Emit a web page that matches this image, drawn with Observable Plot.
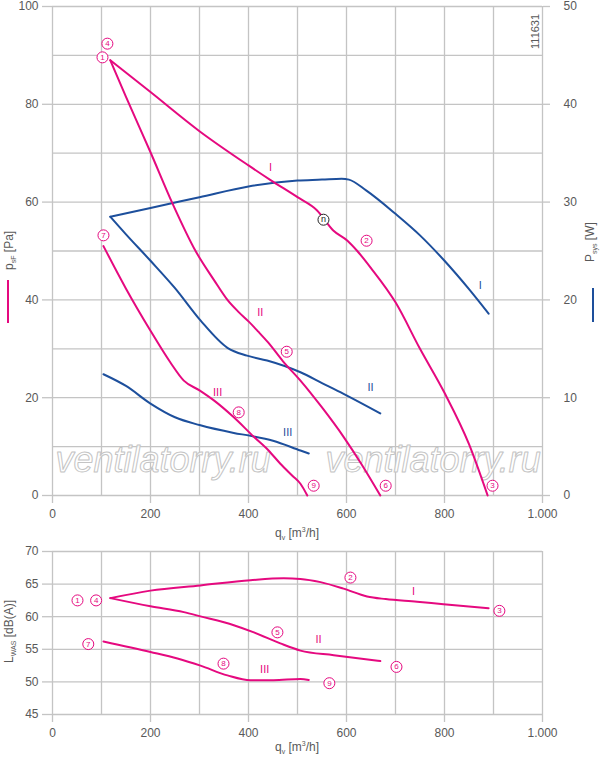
<!DOCTYPE html>
<html><head><meta charset="utf-8">
<script src="https://cdn.jsdelivr.net/npm/d3@7"></script>
<script src="https://cdn.jsdelivr.net/npm/@observablehq/plot@0.6"></script>
<style>
body{margin:0;background:#fff;font-family:"Liberation Sans",Arial,sans-serif;}
#chart{width:600px;height:760px;}
#chart svg{display:block}
</style></head><body><div id="chart"></div>
<script>
// ---------- data ----------
const qTicks = [0,100,200,300,400,500,600,700,800,900,1000];
const qLabelTicks = [0,200,400,600,800,1000];
const pGrid = [0,10,20,30,40,50,60,70,80,90,100];
const pTicks = [0,20,40,60,80,100];
const lGrid = [45,50,55,60,65,70];

// static pressure p_sF [Pa] vs q_v [m3/h]
const pressI = [[118,89],[200,82.5],[300,74.5],[400,67.5],[445,64.5],[500,61],[540,58.3],[573,54.2],[602,52.1],[622,50],[650,46.5],[700,39.5],[750,30],[800,21],[850,10.5],[888,0]];
const pressII = [[118,89],[150,81.5],[200,70.2],[245,59.7],[292,50],[330,44],[357,40],[380,37.5],[400,35.6],[420,33.5],[440,31.3],[470,27.5],[506,23.5],[550,18],[594,12],[630,6.5],[669,0]];
const pressIII = [[104,51],[150,42.3],[200,33.7],[240,27.3],[268,23.5],[300,21.5],[330,19.4],[370,16],[411,12],[440,9.3],[465,6.5],[490,4],[506,2.4],[520,0]];

// power P_sys [W]
const powI = [[118,28.5],[200,29.4],[300,30.5],[400,31.6],[500,32.2],[550,32.3],[590,32.4],[605,32.3],[640,31.2],[700,28.8],[750,26.6],[800,24.0],[850,21.1],[890,18.6]];
const powII = [[118,28.5],[150,26.7],[200,24.0],[250,21.2],[302,17.9],[357,15.1],[397,14.3],[438,13.8],[506,12.6],[550,11.5],[594,10.4],[669,8.4]];
const powIII = [[104,12.4],[150,11.2],[200,9.4],[250,8.0],[300,7.2],[370,6.4],[404,6.1],[450,5.6],[506,4.6],[523,4.3]];

// sound power L_WAS [dB(A)]
const noiseI = [[118,62.85],[200,64.0],[302,64.8],[404,65.6],[472,65.9],[506,65.8],[547,65.3],[594,64.3],[642,63.1],[680,62.7],[744,62.3],[798,61.9],[890,61.3]];
const noiseII = [[118,62.85],[200,61.6],[268,60.7],[302,60.05],[370,58.7],[411,57.6],[465,55.9],[506,54.8],[574,54.1],[669,53.2]];
const noiseIII = [[104,56.2],[200,54.6],[255,53.6],[302,52.5],[357,51],[404,50.25],[451,50.25],[506,50.45],[523,50.3]];

// annotations
const topCircles = [["4",112,92.4],["1",102,89.6],["7",104,53.2],["2",641,52.1],["5",478,29.4],["8",380,17],["9",533,2],["6",680,2],["3",898,2]];
const topMarkerN = [["n",553,56.4]];
const pressRoman = [["I",445,67.1],["II",424,37.4],["III",337,21]];
const powRoman = [["I",873,21.5],["II",649,11.05],["III",480,6.45]];
const botCircles = [["1",51,62.5],["4",89,62.5],["7",73,55.8],["5",459,57.6],["8",349,52.8],["2",608,66.0],["3",912,60.9],["6",702,52.3],["9",565,49.8]];
const noiseRoman = [["I",737,63.8],["II",543,56.5],["III",433,51.9]];
const docNumber = [["111631",986,94.9]];
const watermark = [["ventilatorry.ru",6,4.9],["ventilatorry.ru",557,4.9]];

// ---------- styles ----------
const MAG = "#e5097f", BLU = "#1d4f9c", GRID = "#c4c4c4", TXT = "#595959";
const FONT = '"Liberation Sans", Arial, Helvetica, sans-serif';
const fmt = d3.formatLocale({decimal:",",thousands:".",grouping:[3],currency:["",""]}).format(",");
const rows = a => a.map(([q,v]) => ({q, v}));
const lab = a => a.map(([t,q,v]) => ({t, q, v}));
const W2P = 2; // right axis: 50 W spans the same height as 100 Pa

const lineOpts = (color) => ({x:"q", y:"v", stroke:color, strokeWidth:2, curve:"monotone-x"});
const lineOptsW = (color) => ({x:"q", y:d => d.v * W2P, stroke:color, strokeWidth:2, curve:"monotone-x"});

const topPlot = Plot.plot({
  width:600, height:540, marginTop:6, marginBottom:45, marginLeft:52, marginRight:58,
  style:{fontFamily:FONT, fontSize:"12px", color:TXT, background:"white", overflow:"visible"},
  x:{domain:[0,1000]}, y:{domain:[0,100]},
  marks:[
    Plot.gridX(qTicks, {stroke:GRID, strokeOpacity:1, strokeWidth:1.3}),
    Plot.gridY(pGrid, {stroke:GRID, strokeOpacity:1, strokeWidth:1.3}),
    Plot.text(lab(watermark), {x:"q", y:"v", text:"t", textAnchor:"start", lineAnchor:"bottom", fontSize:36, fontStyle:"italic", fill:"white", fillOpacity:0.85, stroke:"#c4c4c4", strokeWidth:1, paintOrder:"normal"}),
    Plot.axisX(qLabelTicks, {anchor:"bottom", tickSize:8, tickPadding:6, stroke:GRID, strokeWidth:1.3, fill:TXT, tickFormat:fmt, label:null}),
    Plot.axisY(pTicks, {anchor:"left", tickSize:10, tickPadding:4, stroke:GRID, strokeWidth:1.3, fill:TXT, label:null}),
    Plot.axisY(pTicks, {anchor:"right", tickSize:7, tickPadding:14, stroke:GRID, strokeWidth:1.3, fill:TXT, tickFormat:d => d / W2P, label:null}),
    Plot.line(rows(powI), lineOptsW(BLU)),
    Plot.line(rows(powII), lineOptsW(BLU)),
    Plot.line(rows(powIII), lineOptsW(BLU)),
    Plot.line(rows(pressI), lineOpts(MAG)),
    Plot.line(rows(pressII), lineOpts(MAG)),
    Plot.line(rows(pressIII), lineOpts(MAG)),
    Plot.dot(lab(topCircles), {x:"q", y:"v", r:5.5, stroke:MAG, fill:"white", strokeWidth:1}),
    Plot.text(lab(topCircles), {x:"q", y:"v", text:"t", fill:MAG, fontSize:8}),
    Plot.dot(lab(topMarkerN), {x:"q", y:"v", r:5.5, stroke:"#222", fill:"white", strokeWidth:1}),
    Plot.text(lab(topMarkerN), {x:"q", y:"v", text:"t", fill:"#222", fontSize:9, dy:-1}),
    Plot.text(lab(pressRoman), {x:"q", y:"v", text:"t", fill:MAG, fontSize:11}),
    Plot.text(lab(powRoman), {x:"q", y:d => d.v * W2P, text:"t", fill:BLU, fontSize:11}),
    Plot.text(lab(docNumber), {x:"q", y:"v", text:"t", rotate:-90, fill:TXT, fontSize:11})
  ]
});

const botPlot = Plot.plot({
  width:600, height:220, marginTop:11, marginBottom:46, marginLeft:52, marginRight:58,
  style:{fontFamily:FONT, fontSize:"12px", color:TXT, background:"white", overflow:"visible"},
  x:{domain:[0,1000]}, y:{domain:[45,70]},
  marks:[
    Plot.gridX(qTicks, {stroke:GRID, strokeOpacity:1, strokeWidth:1.3}),
    Plot.gridY(lGrid, {stroke:GRID, strokeOpacity:1, strokeWidth:1.3}),
    Plot.axisX(qLabelTicks, {anchor:"bottom", tickSize:8, tickPadding:6, stroke:GRID, strokeWidth:1.3, fill:TXT, tickFormat:fmt, label:null}),
    Plot.axisY(lGrid, {anchor:"left", tickSize:10, tickPadding:4, stroke:GRID, strokeWidth:1.3, fill:TXT, label:null}),
    Plot.line(rows(noiseI), lineOpts(MAG)),
    Plot.line(rows(noiseII), lineOpts(MAG)),
    Plot.line(rows(noiseIII), lineOpts(MAG)),
    Plot.dot(lab(botCircles), {x:"q", y:"v", r:5.5, stroke:MAG, fill:"white", strokeWidth:1}),
    Plot.text(lab(botCircles), {x:"q", y:"v", text:"t", fill:MAG, fontSize:8}),
    Plot.text(lab(noiseRoman), {x:"q", y:"v", text:"t", fill:MAG, fontSize:11})
  ]
});

// ---------- axis titles (with sub/superscripts) ----------
function vLabel(svg, x, y, main, sub, rest) {
  const t = d3.select(svg).append("text")
    .attr("transform", `translate(${x},${y}) rotate(-90)`)
    .attr("text-anchor","start").attr("fill",TXT)
    .attr("font-family",FONT).attr("font-size",12);
  t.append("tspan").text(main);
  t.append("tspan").attr("font-size",7).attr("dy",3).text(sub);
  t.append("tspan").attr("dy",-3).text(" " + rest);
}
function qLabel(svg, x, y) {
  const t = d3.select(svg).append("text")
    .attr("x",x).attr("y",y).attr("text-anchor","middle").attr("fill",TXT)
    .attr("font-family",FONT).attr("font-size",12);
  t.append("tspan").text("q");
  t.append("tspan").attr("font-size",7).attr("dy",3).text("v");
  t.append("tspan").attr("dy",-3).text(" [m");
  t.append("tspan").attr("font-size",7).attr("dy",-5).text("3");
  t.append("tspan").attr("dy",5).text("/h]");
}
function legendBar(svg, x, y1, y2, color) {
  d3.select(svg).append("line").attr("x1",x).attr("x2",x).attr("y1",y1).attr("y2",y2)
    .attr("stroke",color).attr("stroke-width",2);
}

vLabel(topPlot, 13, 270, "p", "sF", "[Pa]");
legendBar(topPlot, 8, 280, 323, MAG);
vLabel(topPlot, 594, 262, "P", "sys", "[W]");
legendBar(topPlot, 593, 288, 322, BLU);
qLabel(topPlot, 297, 537);

vLabel(botPlot, 13, 123, "L", "WAS", "[dB(A)]");
qLabel(botPlot, 297, 211);

const root = document.getElementById("chart");
root.appendChild(topPlot);
root.appendChild(botPlot);
</script></body></html>
